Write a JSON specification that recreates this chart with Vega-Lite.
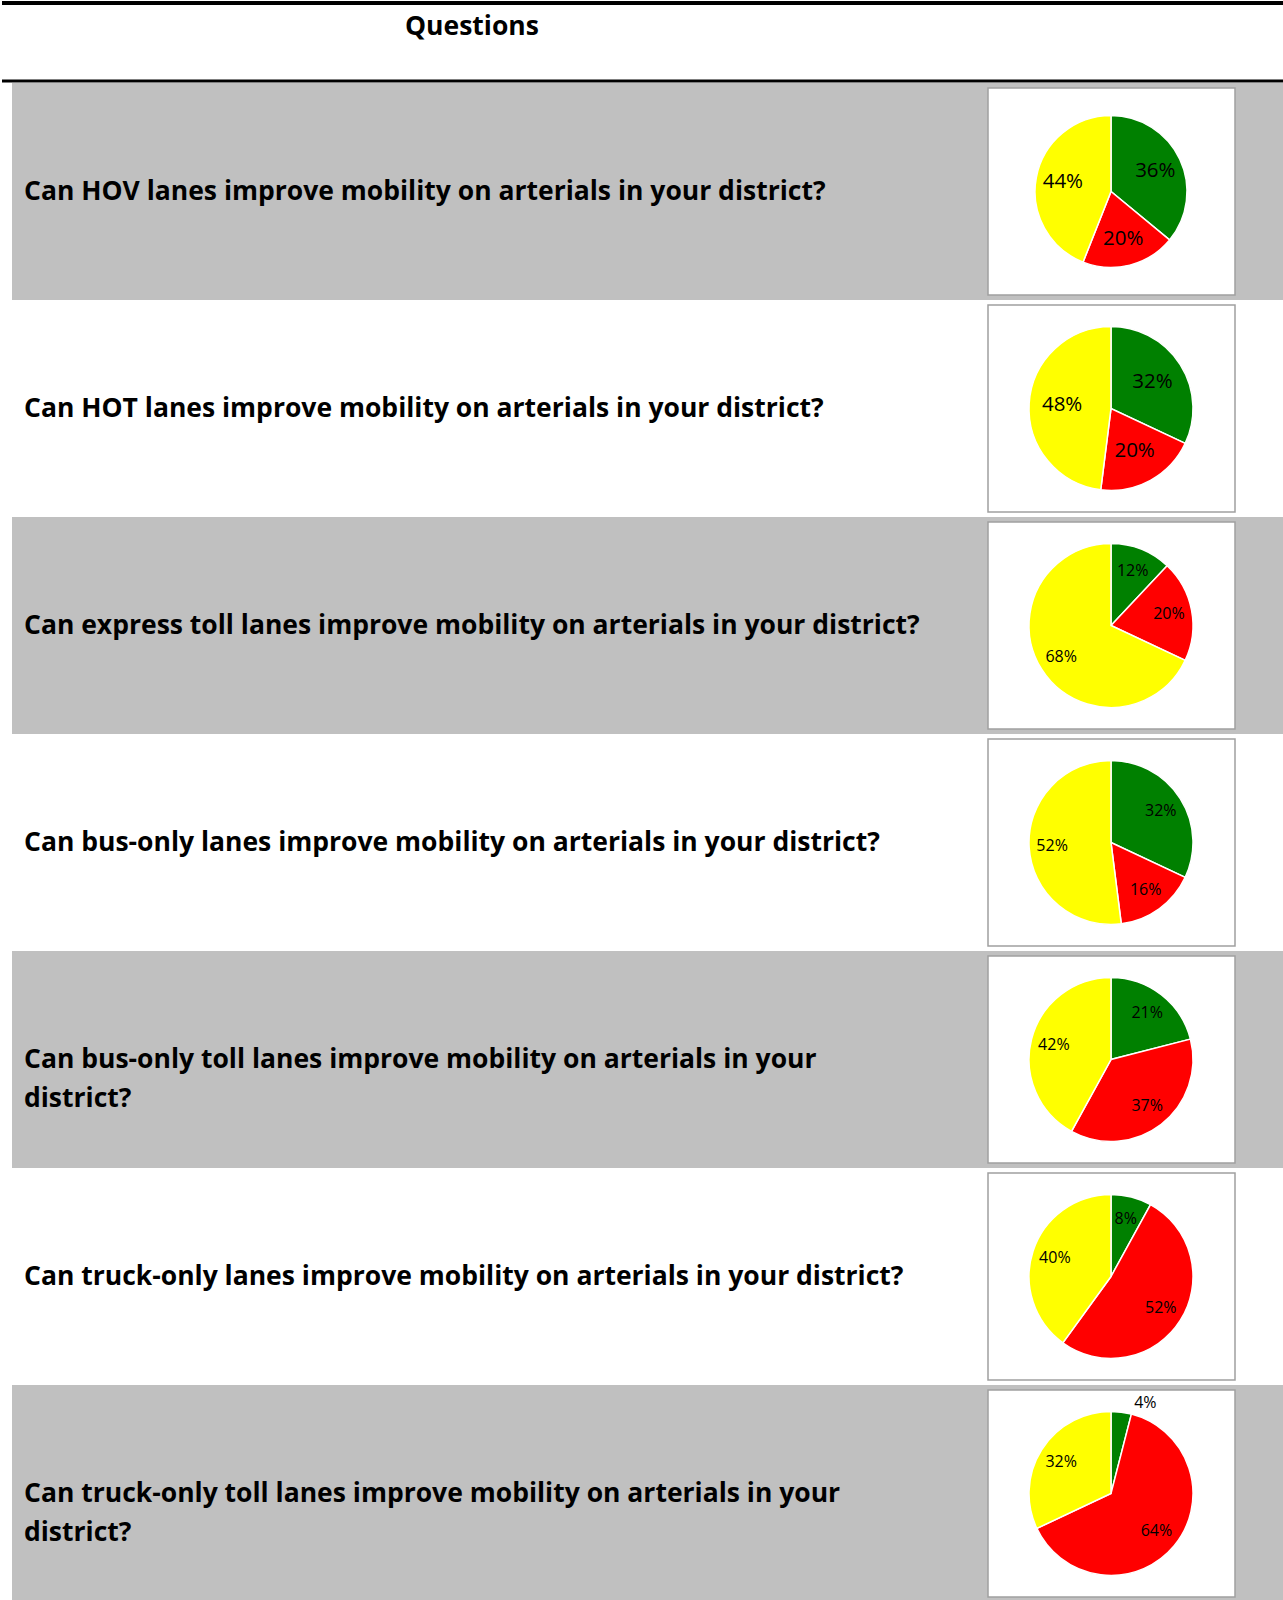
{
  "$schema": "https://vega.github.io/schema/vega-lite/v6.json",
  "padding": 0,
  "spacing": 0,
  "background": "white",
  "config": {"view": {"stroke": null}, "font": "Open Sans"},
  "datasets": {
    "survey": [
      {"n": 1, "question": "Can HOV lanes improve mobility on arterials in your district?", "answer": "Yes", "k": 1, "pct": 0.36},
      {"n": 1, "question": "Can HOV lanes improve mobility on arterials in your district?", "answer": "No", "k": 2, "pct": 0.20},
      {"n": 1, "question": "Can HOV lanes improve mobility on arterials in your district?", "answer": "Not sure", "k": 3, "pct": 0.44},
      {"n": 2, "question": "Can HOT lanes improve mobility on arterials in your district?", "answer": "Yes", "k": 1, "pct": 0.32},
      {"n": 2, "question": "Can HOT lanes improve mobility on arterials in your district?", "answer": "No", "k": 2, "pct": 0.20},
      {"n": 2, "question": "Can HOT lanes improve mobility on arterials in your district?", "answer": "Not sure", "k": 3, "pct": 0.48},
      {"n": 3, "question": "Can express toll lanes improve mobility on arterials in your district?", "answer": "Yes", "k": 1, "pct": 0.12},
      {"n": 3, "question": "Can express toll lanes improve mobility on arterials in your district?", "answer": "No", "k": 2, "pct": 0.20},
      {"n": 3, "question": "Can express toll lanes improve mobility on arterials in your district?", "answer": "Not sure", "k": 3, "pct": 0.68},
      {"n": 4, "question": "Can bus-only lanes improve mobility on arterials in your district?", "answer": "Yes", "k": 1, "pct": 0.32},
      {"n": 4, "question": "Can bus-only lanes improve mobility on arterials in your district?", "answer": "No", "k": 2, "pct": 0.16},
      {"n": 4, "question": "Can bus-only lanes improve mobility on arterials in your district?", "answer": "Not sure", "k": 3, "pct": 0.52},
      {"n": 5, "question": "Can bus-only toll lanes improve mobility on arterials in your\ndistrict?", "answer": "Yes", "k": 1, "pct": 0.21},
      {"n": 5, "question": "Can bus-only toll lanes improve mobility on arterials in your\ndistrict?", "answer": "No", "k": 2, "pct": 0.37},
      {"n": 5, "question": "Can bus-only toll lanes improve mobility on arterials in your\ndistrict?", "answer": "Not sure", "k": 3, "pct": 0.42},
      {"n": 6, "question": "Can truck-only lanes improve mobility on arterials in your district?", "answer": "Yes", "k": 1, "pct": 0.08},
      {"n": 6, "question": "Can truck-only lanes improve mobility on arterials in your district?", "answer": "No", "k": 2, "pct": 0.52},
      {"n": 6, "question": "Can truck-only lanes improve mobility on arterials in your district?", "answer": "Not sure", "k": 3, "pct": 0.40},
      {"n": 7, "question": "Can truck-only toll lanes improve mobility on arterials in your\ndistrict?", "answer": "Yes", "k": 1, "pct": 0.04},
      {"n": 7, "question": "Can truck-only toll lanes improve mobility on arterials in your\ndistrict?", "answer": "No", "k": 2, "pct": 0.64},
      {"n": 7, "question": "Can truck-only toll lanes improve mobility on arterials in your\ndistrict?", "answer": "Not sure", "k": 3, "pct": 0.32}
    ]
  },
  "vconcat": [
    {
      "width": 1283,
      "height": 83,
      "data": {"values": [{"heading": "Questions"}]},
      "layer": [
        {"mark": {"type": "rule", "color": "black", "strokeWidth": 4}, "encoding": {"x": {"value": 0}, "x2": {"value": 1283}, "y": {"value": 3}}},
        {"mark": {"type": "rule", "color": "black", "strokeWidth": 3}, "encoding": {"x": {"value": 0}, "x2": {"value": 1283}, "y": {"value": 81}}},
        {"mark": {"type": "text", "align": "left", "baseline": "alphabetic", "fontSize": 26.5, "fontWeight": "bold", "color": "black"}, "encoding": {"x": {"value": 403}, "y": {"value": 35}, "text": {"field": "heading"}}}
      ]
    },
    {
      "data": {"name": "survey"},
      "facet": {"row": {"field": "n", "type": "ordinal", "header": null}},
      "spacing": 0,
      "spec": {
        "width": 1283,
        "height": 217,
        "layer": [
          {
            "transform": [{"filter": "datum.k == 1"}],
            "mark": {"type": "rect"},
            "encoding": {
              "x": {"datum": 10, "type": "quantitative", "scale": {"domain": [0, 1283], "nice": false, "zero": false}, "axis": null},
              "x2": {"datum": 1283},
              "fill": {"condition": {"test": "datum.n % 2 == 1", "value": "#c0c0c0"}, "value": "#ffffff"}
            }
          },
          {
            "transform": [{"filter": "datum.k == 1"}],
            "mark": {"type": "rect", "fill": "white", "stroke": "#a0a0a0", "strokeWidth": 1.5},
            "encoding": {
              "x": {"datum": 986, "type": "quantitative"},
              "x2": {"datum": 1233},
              "y": {"value": 5},
              "y2": {"value": 212}
            }
          },
          {
            "transform": [{"filter": "datum.k == 1"}],
            "mark": {"type": "text", "align": "left", "baseline": "middle", "fontSize": 26.5, "fontWeight": "bold", "lineBreak": "\n", "lineHeight": 39, "color": "black"},
            "encoding": {
              "x": {"datum": 22, "type": "quantitative"},
              "text": {"field": "question"}
            }
          },
          {
            "transform": [{"filter": "datum.n == 1"}],
            "mark": {"type": "arc", "outerRadius": 76, "stroke": "white", "strokeWidth": 1.5},
            "encoding": {
              "x": {"datum": 1109, "type": "quantitative"},
              "theta": {"field": "pct", "type": "quantitative", "stack": true},
              "color": {"field": "answer", "type": "nominal", "scale": {"domain": ["Yes", "No", "Not sure"], "range": ["#008000", "#ff0000", "#ffff00"]}, "legend": null},
              "order": {"field": "k", "type": "quantitative"}
            }
          },
          {
            "transform": [{"filter": "datum.n > 1"}],
            "mark": {"type": "arc", "outerRadius": 82, "stroke": "white", "strokeWidth": 1.5},
            "encoding": {
              "x": {"datum": 1109, "type": "quantitative"},
              "theta": {"field": "pct", "type": "quantitative", "stack": true},
              "color": {"field": "answer", "type": "nominal", "legend": null},
              "order": {"field": "k", "type": "quantitative"}
            }
          },
          {
            "transform": [{"filter": "datum.n <= 2"}],
            "mark": {"type": "text", "radius": 49, "fontSize": 20.5, "color": "black"},
            "encoding": {
              "x": {"datum": 1109, "type": "quantitative"},
              "theta": {"field": "pct", "type": "quantitative", "stack": true},
              "detail": {"field": "answer"},
              "order": {"field": "k", "type": "quantitative"},
              "text": {"field": "pct", "type": "quantitative", "format": ".0%"}
            }
          },
          {
            "transform": [{"filter": "datum.n > 2"}],
            "mark": {"type": "text", "radius": 59, "fontSize": 16, "color": "black"},
            "encoding": {
              "x": {"datum": 1109, "type": "quantitative"},
              "theta": {"field": "pct", "type": "quantitative", "stack": true},
              "detail": {"field": "answer"},
              "order": {"field": "k", "type": "quantitative"},
              "opacity": {"condition": {"test": "datum.pct < 0.05", "value": 0}, "value": 1},
              "text": {"field": "pct", "type": "quantitative", "format": ".0%"}
            }
          },
          {
            "transform": [{"filter": "datum.n > 2"}],
            "mark": {"type": "text", "radius": 91, "dx": 23, "fontSize": 16, "color": "black"},
            "encoding": {
              "x": {"datum": 1109, "type": "quantitative"},
              "theta": {"field": "pct", "type": "quantitative", "stack": true},
              "detail": {"field": "answer"},
              "order": {"field": "k", "type": "quantitative"},
              "opacity": {"condition": {"test": "datum.pct < 0.05", "value": 1}, "value": 0},
              "text": {"field": "pct", "type": "quantitative", "format": ".0%"}
            }
          }
        ]
      }
    }
  ]
}
